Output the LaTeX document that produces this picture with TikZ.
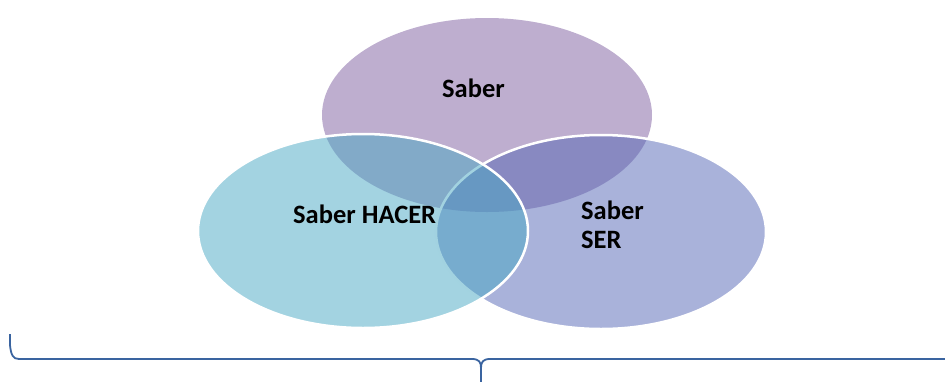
\documentclass[tikz,border=0pt]{standalone}
\usepackage{fontspec}
\setmainfont{Carlito}
\usetikzlibrary{shapes.geometric}
\definecolor{topc}{RGB}{190,174,207}
\definecolor{rightc}{RGB}{83,101,181}
\definecolor{leftc}{RGB}{71,167,195}
\definecolor{bracec}{RGB}{58,100,160}
\tikzset{
  circ/.style={ellipse, inner sep=0pt, minimum width=330pt, minimum height=194pt},
  lbl/.style={font=\fontsize{26.5}{28.5}\selectfont\bfseries, inner sep=0pt, text=black},
}
\begin{document}
\begin{tikzpicture}[x=1pt,y=-1pt]
\useasboundingbox (0,0) rectangle (945,381);
\node[circ, fill=topc] (top) at (487,115) {};
\node[circ, fill=rightc, fill opacity=0.5, draw=white, line width=2.5pt] (right) at (601,232) {};
\node[circ, fill=leftc, fill opacity=0.5, draw=white, line width=2.5pt] (left) at (363,231) {};
\node[lbl, anchor=base west] (tsaber) at (442,97) {Saber};
\node[lbl, anchor=base west] (thacer) at (293,223) {Saber HACER};
\node[lbl, anchor=base west, align=left] (tser) at (581,248) {Saber\\SER};
\draw[bracec, line width=1.8pt]
  (10,334) -- (10,345) .. controls (11,355) and (13,359) .. (19,359)
  -- (472,359) .. controls (479,359) and (481,362) .. (481,368) -- (481,382);
\draw[bracec, line width=1.8pt]
  (481,368) .. controls (481,362) and (483,359) .. (490,359) -- (946,359);
\end{tikzpicture}
\end{document}
